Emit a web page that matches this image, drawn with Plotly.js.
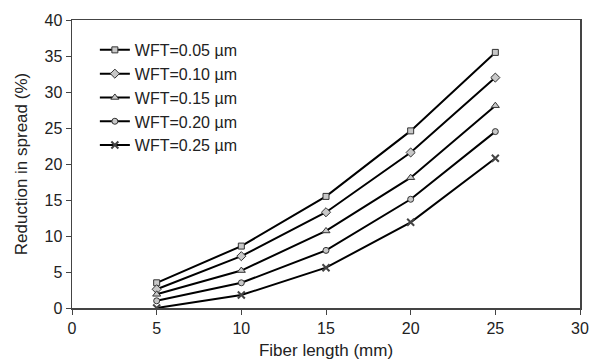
<!DOCTYPE html>
<html>
<head>
<meta charset="utf-8">
<script src="https://cdn.plot.ly/plotly-3.0.1.min.js"></script>
<style>html,body{margin:0;padding:0;background:#fff}#chart{width:598px;height:363px}</style>
</head>
<body>
<div id="chart"></div>
<script>
const fiberLength = [5, 10, 15, 20, 25];
const seriesNames = ["WFT=0.05 µm", "WFT=0.10 µm", "WFT=0.15 µm", "WFT=0.20 µm", "WFT=0.25 µm"];
const wft005 = [3.5, 8.6, 15.5, 24.6, 35.5];
const wft010 = [2.6, 7.2, 13.3, 21.6, 32.0];
const wft015 = [1.9, 5.2, 10.7, 18.1, 28.1];
const wft020 = [1.0, 3.5, 8.0, 15.1, 24.5];
const wft025 = [0.0, 1.8, 5.6, 11.9, 20.8];
const seriesValues = [wft005, wft010, wft015, wft020, wft025];
const symbols = ["square", "diamond", "triangle-up", "circle", "x-thin"];
const sizes = [6, 7, 7, 6, 7];

const traces = seriesValues.map((v, i) => ({
  x: fiberLength, y: v, name: seriesNames[i], type: "scatter", mode: "lines+markers",
  line: {color: "#000", width: 2},
  marker: {symbol: symbols[i], size: sizes[i], color: "#c8c8c8",
           line: {color: i === 4 ? "#444" : "#333", width: i === 4 ? 2 : 1}}
}));

const ff = "Liberation Sans, Arial, sans-serif";
Plotly.newPlot("chart", traces, {
  width: 598, height: 363,
  margin: {l: 72, r: 18, t: 20, b: 55},
  paper_bgcolor: "#fff", plot_bgcolor: "#fff",
  font: {family: ff, color: "#222", size: 16},
  showlegend: true,
  legend: {x: 0.045, y: 0.955, xanchor: "left", yanchor: "top", bgcolor: "rgba(0,0,0,0)",
           font: {family: ff, size: 16, color: "#222"}, itemwidth: 30},
  xaxis: {range: [0, 30], dtick: 5, tick0: 0, showgrid: false, zeroline: false,
          showline: true, linecolor: "#444", linewidth: 1.5, mirror: true,
          ticks: "outside", ticklen: 5, tickcolor: "#444",
          title: {text: "Fiber length (mm)", font: {family: ff, size: 17, color: "#222"}, standoff: 8}},
  yaxis: {range: [0, 40], dtick: 5, tick0: 0, showgrid: false, zeroline: false,
          showline: true, linecolor: "#444", linewidth: 1.5, mirror: true,
          ticks: "outside", ticklen: 5, tickcolor: "#444",
          title: {text: "Reduction in spread (%)", font: {family: ff, size: 17, color: "#222"}, standoff: 12}}
}, {displayModeBar: false, staticPlot: true});
</script>
</body>
</html>
